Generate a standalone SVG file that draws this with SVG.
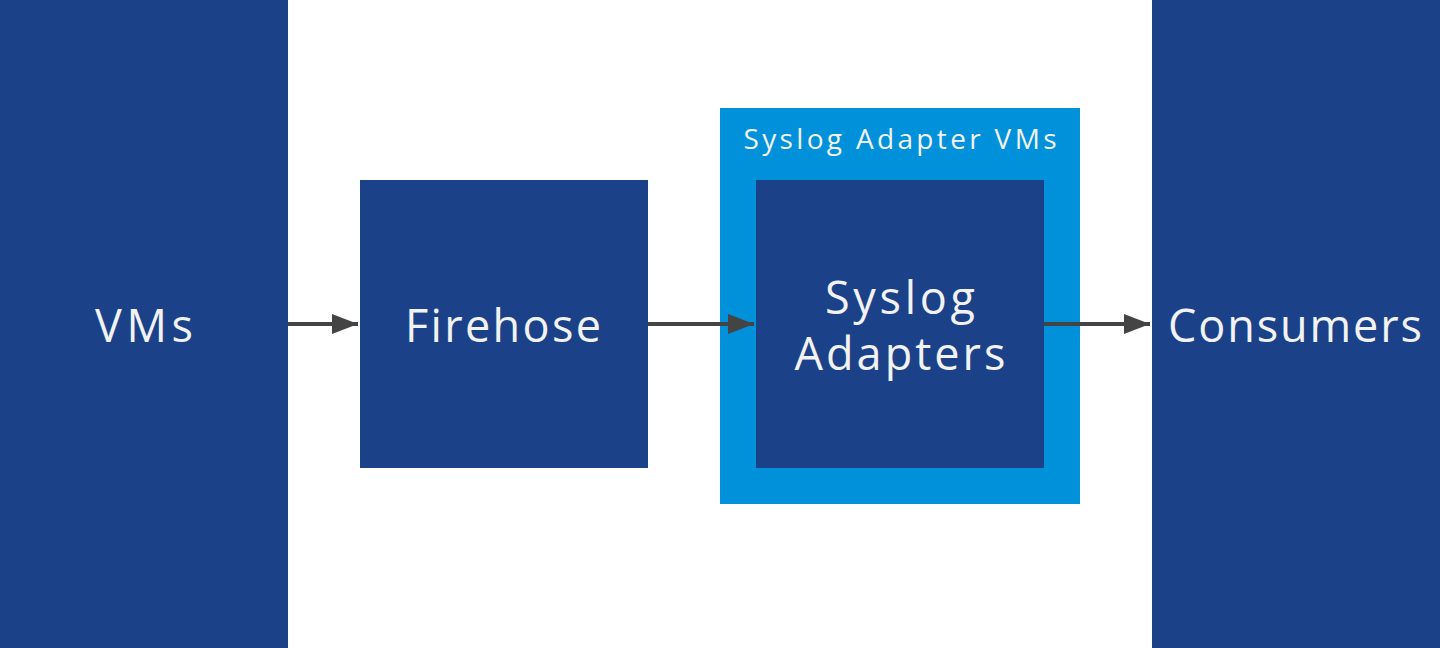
<svg xmlns="http://www.w3.org/2000/svg" width="1440" height="648" viewBox="0 0 1440 648">
<style>
.dark{fill:#1b4289}
.light{fill:#0091da}
.t{fill:#f2f2f2;font-family:"Open Sans",Lato,sans-serif;text-anchor:middle}
.big{font-size:45px}
.small{font-size:28px}
.conn{stroke:#444;stroke-width:4;fill:none}
</style>
<defs>
<marker id="ah" markerUnits="userSpaceOnUse" markerWidth="26" markerHeight="20" refX="26" refY="10" orient="auto">
<path d="M0,0 L26,10 L0,20 Z" fill="#444"/>
</marker>
</defs>
<rect width="1440" height="648" fill="#fff"/>
<g id="vms"><rect class="dark" x="0" y="0" width="288" height="648"/><text class="t big" x="144" y="342" textLength="98" lengthAdjust="spacing">VMs</text></g>
<g id="firehose"><rect class="dark" x="360" y="180" width="288" height="288"/><text class="t big" x="503" y="342" textLength="196" lengthAdjust="spacing">Firehose</text></g>
<g id="syslog-adapter-vms"><rect class="light" x="720" y="108" width="360" height="396"/><text class="t small" x="900" y="149" textLength="313" lengthAdjust="spacing">Syslog Adapter VMs</text></g>
<g id="syslog-adapters"><rect class="dark" x="756" y="180" width="288" height="288"/><text class="t big" x="900" y="314" textLength="150" lengthAdjust="spacing">Syslog</text><text class="t big" x="900" y="370" textLength="211" lengthAdjust="spacing">Adapters</text></g>
<g id="consumers"><rect class="dark" x="1152" y="0" width="288" height="648"/><text class="t big" x="1295" y="342" textLength="254" lengthAdjust="spacing">Consumers</text></g>
<g id="connectors">
<line class="conn" x1="288" y1="324" x2="358" y2="324" marker-end="url(#ah)"/>
<line class="conn" x1="648" y1="324" x2="754" y2="324" marker-end="url(#ah)"/>
<line class="conn" x1="1044" y1="324" x2="1150" y2="324" marker-end="url(#ah)"/>
</g>
</svg>
